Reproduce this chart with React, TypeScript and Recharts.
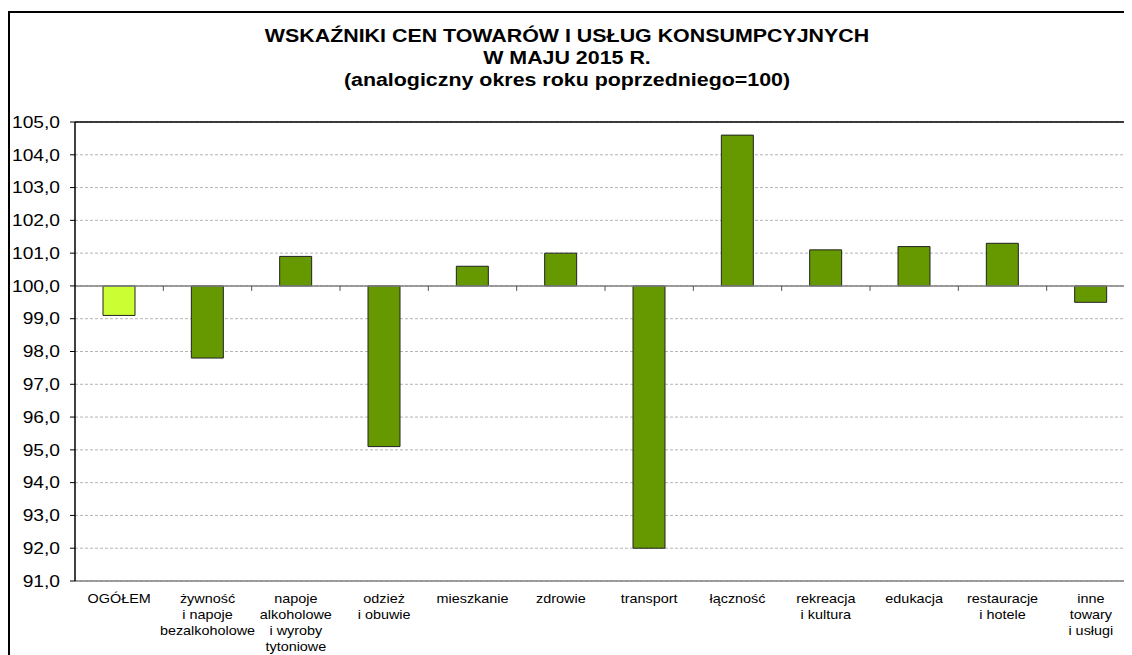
import { BarChart, Bar, XAxis, YAxis, CartesianGrid, ReferenceLine, Cell } from 'recharts';

// kategorie (podpisy osi X, wiersze rozdzielone \n)
const categories = [
  'OGÓŁEM',
  'żywność\ni napoje\nbezalkoholowe',
  'napoje\nalkoholowe\ni wyroby\ntytoniowe',
  'odzież\ni obuwie',
  'mieszkanie',
  'zdrowie',
  'transport',
  'łączność',
  'rekreacja\ni kultura',
  'edukacja',
  'restauracje\ni hotele',
  'inne\ntowary\ni usługi',
];

// wskaźniki, analogiczny okres roku poprzedniego = 100
const values = [99.1, 97.8, 100.9, 95.1, 100.6, 101.0, 92.0, 104.6, 101.1, 101.2, 101.3, 99.5];

const yTicks = [91, 92, 93, 94, 95, 96, 97, 98, 99, 100, 101, 102, 103, 104, 105];

const BASE = 100;
const FONT = '"Liberation Sans", Arial, sans-serif';
const STRETCH = 1.2; // oryginał ma rozciągnięty poziomo tekst

const data = categories.map((name, i) => ({ name, range: [BASE, values[i]] }));

const CategoryTick = (props: any) => {
  const { x, y, payload } = props;
  const lines = String(payload.value).split('\n');
  return (
    <text transform={`translate(${x},${y}) scale(${STRETCH},1)`} textAnchor="middle" fontFamily={FONT} fontSize={12} fill="#000">
      {lines.map((l, i) => (
        <tspan key={i} x={0} dy={i === 0 ? 14.5 : 16}>{l}</tspan>
      ))}
    </text>
  );
};

const ValueTick = (props: any) => {
  const { x, y, payload } = props;
  return (
    <text transform={`translate(${x},${y}) scale(${STRETCH},1)`} textAnchor="end" dy="0.36em" fontFamily={FONT} fontSize={16} fill="#000">
      {Number(payload.value).toFixed(1).replace('.', ',')}
    </text>
  );
};

// linia 100 z kreskami między kategoriami
const BaseLine = (props: any) => {
  const { x1, y1, x2 } = props;
  const step = (x2 - x1) / categories.length;
  return (
    <g>
      <line x1={x1} y1={y1} x2={x2} y2={y1} stroke="#808080" strokeWidth={1.5} />
      {categories.slice(1).map((_, i) => (
        <line key={i} x1={x1 + step * (i + 1)} y1={y1} x2={x1 + step * (i + 1)} y2={y1 + 5} stroke="#555" />
      ))}
    </g>
  );
};

const App = () => {
  return (
    <div style={{ position: 'relative', width: 1124, height: 647, overflow: 'hidden', background: '#fff' }}>
      <div style={{ position: 'absolute', left: 0, top: 3, width: 1300, height: 800, borderLeft: '2px solid #000', borderTop: '2px solid #000' }} />
      <div style={{ position: 'absolute', left: 0, top: 17, width: 1118, textAlign: 'center', fontFamily: FONT, fontWeight: 'bold', fontSize: 18, lineHeight: '22px', color: '#000', transform: `scaleX(${STRETCH * 0.99})`, transformOrigin: '559px 0' }}>
        <div>WSKAŹNIKI CEN TOWARÓW I USŁUG KONSUMPCYJNYCH</div>
        <div>W MAJU 2015 R.</div>
        <div>(analogiczny okres roku poprzedniego=100)</div>
      </div>
      <div style={{ position: 'absolute', left: 0, top: 0 }}>
        <BarChart width={1140} height={647} data={data} margin={{ top: 114, right: 13, bottom: 4, left: 0 }}>
          <CartesianGrid vertical={false} stroke="#b4b4b4" strokeDasharray="3 2" />
          <XAxis
            dataKey="name"
            interval={0}
            height={70}
            tickLine={false}
            axisLine={{ stroke: '#808080', strokeWidth: 1.5 }}
            tick={<CategoryTick />}
          />
          <YAxis
            domain={[91, 105]}
            ticks={yTicks}
            width={67}
            tickSize={5}
            tickMargin={10}
            axisLine={{ stroke: '#000', strokeWidth: 1.5 }}
            tickLine={{ stroke: '#000' }}
            tick={<ValueTick />}
            allowDataOverflow
          />
          <ReferenceLine y={105} stroke="#000" strokeWidth={1.5} />
          <ReferenceLine y={BASE} shape={<BaseLine />} />
          <Bar dataKey="range" barSize={32} stroke="#222" strokeWidth={1} isAnimationActive={false}>
            {data.map((_, i) => (
              <Cell key={i} fill={i === 0 ? '#CCFF33' : '#669900'} />
            ))}
          </Bar>
        </BarChart>
      </div>
    </div>
  );
};

export default App;
